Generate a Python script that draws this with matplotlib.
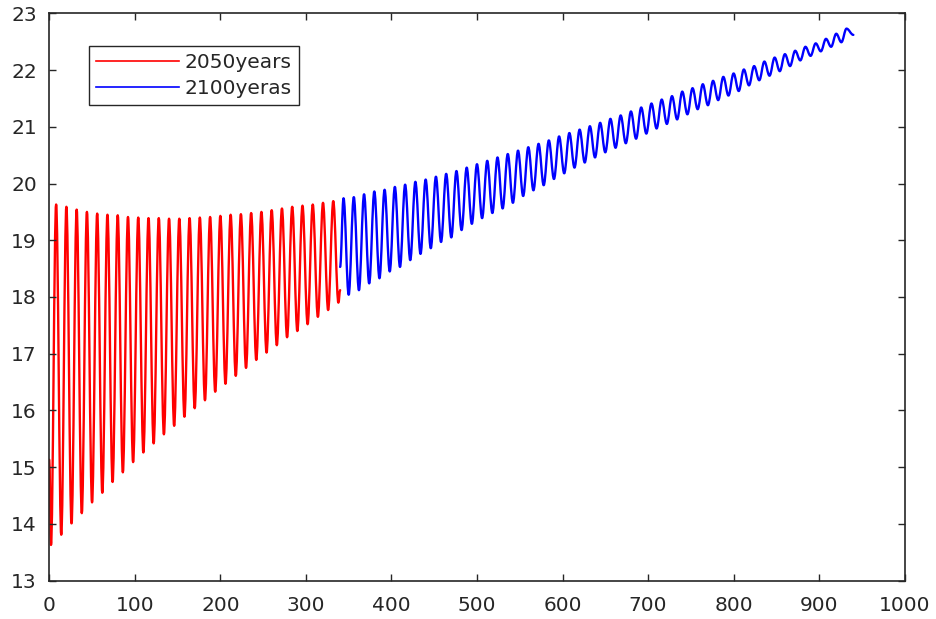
import numpy as np
import matplotlib
matplotlib.use("Agg")
import matplotlib.pyplot as plt
from matplotlib.path import Path
from matplotlib.patches import PathPatch
from matplotlib.lines import Line2D

# ---- data (monthly index on x) ----
red_start = [15.13, 13.63]          # values at month 0 and 2
red_peaks = [19.63, 19.59, 19.54, 19.50, 19.47, 19.45, 19.44, 19.41, 19.40, 19.39,
             19.39, 19.38, 19.38, 19.39, 19.40, 19.41, 19.43, 19.45, 19.46, 19.48,
             19.50, 19.53, 19.56, 19.59, 19.61, 19.63, 19.66, 19.69]
red_troughs = [13.81, 14.01, 14.19, 14.38, 14.55, 14.74, 14.91, 15.09, 15.26, 15.42,
               15.58, 15.73, 15.89, 16.04, 16.18, 16.33, 16.47, 16.61, 16.75, 16.89,
               17.02, 17.15, 17.29, 17.40, 17.52, 17.65, 17.77, 17.90]
red_end = 18.12

blue_start = 18.53
blue_peaks = [19.74, 19.76, 19.81, 19.86, 19.89, 19.94, 19.98, 20.03, 20.07, 20.12,
              20.17, 20.22, 20.28, 20.34, 20.40, 20.46, 20.52, 20.58, 20.64, 20.70,
              20.76, 20.83, 20.89, 20.95, 21.01, 21.07, 21.14, 21.20, 21.27, 21.34,
              21.41, 21.48, 21.54, 21.62, 21.68, 21.75, 21.81, 21.88, 21.94, 22.01,
              22.07, 22.15, 22.22, 22.28, 22.34, 22.41, 22.47, 22.55, 22.64, 22.73]
blue_troughs = [18.04, 18.12, 18.24, 18.33, 18.45, 18.53, 18.65, 18.76, 18.86, 18.97,
                19.05, 19.18, 19.29, 19.39, 19.48, 19.56, 19.66, 19.78, 19.88, 19.97,
                20.08, 20.18, 20.28, 20.37, 20.46, 20.55, 20.63, 20.71, 20.79, 20.88,
                20.97, 21.05, 21.13, 21.22, 21.31, 21.38, 21.47, 21.55, 21.63, 21.73,
                21.82, 21.90, 21.98, 22.07, 22.17, 22.25, 22.33, 22.41, 22.49]
blue_end = 22.62

labels = ["2050years", "2100yeras"]
x_ticks = list(range(0, 1001, 100))
y_ticks = list(range(13, 24))

# ---- assemble series (extrema in order) ----
def build(first_x, first_y, peaks, troughs, pk_month0, tr_month0, end_x, end_y):
    xs, ys = list(first_x), list(first_y)
    for k in range(len(peaks)):
        xs.append(pk_month0 + 12 * k); ys.append(peaks[k])
        if k < len(troughs):
            xs.append(tr_month0 + 12 * k); ys.append(troughs[k])
    xs.append(end_x); ys.append(end_y)
    return np.array(xs, float), np.array(ys, float)

rx, ry = build([0, 2], red_start, red_peaks, red_troughs, 8, 14, 340, red_end)
bx, by = build([340], [blue_start], blue_peaks, blue_troughs, 344, 350, 940, blue_end)

def smooth_path(xs, ys):
    """Path through the extrema with flat tangents at each (cosine-like arcs)."""
    verts = [(xs[0], ys[0])]
    codes = [Path.MOVETO]
    for i in range(1, len(xs)):
        d = 0.364 * (xs[i] - xs[i - 1])
        verts += [(xs[i - 1] + d, ys[i - 1]), (xs[i] - d, ys[i]), (xs[i], ys[i])]
        codes += [Path.CURVE4] * 3
    return Path(verts, codes)

plt.rcParams['font.family'] = ['DejaVu Sans']
fig = plt.figure(figsize=(9.37, 6.19), dpi=100)
ax = fig.add_axes([0.0526, 0.0619, 0.9129, 0.9166])

lw = 1.7
for xs, ys, col in [(rx, ry, (1, 0, 0)), (bx, by, (0, 0, 1))]:
    ax.add_patch(PathPatch(smooth_path(xs, ys), facecolor='none', edgecolor=col,
                           lw=lw, joinstyle='round', capstyle='round'))

ax.set_xlim(0, 1000)
ax.set_ylim(13, 23)
ax.set_xticks(x_ticks)
ax.set_yticks(y_ticks)
axc = '#262626'
for s in ax.spines.values():
    s.set_color(axc)
    s.set_linewidth(1.2)
ax.tick_params(direction='in', length=5, width=1.0, colors=axc,
               top=True, right=True, labelsize=14.5)
ax.tick_params(axis='x', pad=11)
ax.tick_params(axis='y', pad=9)

handles = [Line2D([], [], color=(1, 0, 0), lw=1.2), Line2D([], [], color=(0, 0, 1), lw=1.2)]
leg = ax.legend(handles, labels, loc='upper left', bbox_to_anchor=(0.0464, 0.9424),
                borderaxespad=0, fontsize=14.5, handlelength=4.1, handletextpad=0.3,
                borderpad=0.35, labelspacing=0.35, fancybox=False, framealpha=1)
leg.get_frame().set_edgecolor(axc)
leg.get_frame().set_linewidth(1.0)
for t in leg.get_texts():
    t.set_color(axc)

fig.savefig('out.png', dpi=100)
